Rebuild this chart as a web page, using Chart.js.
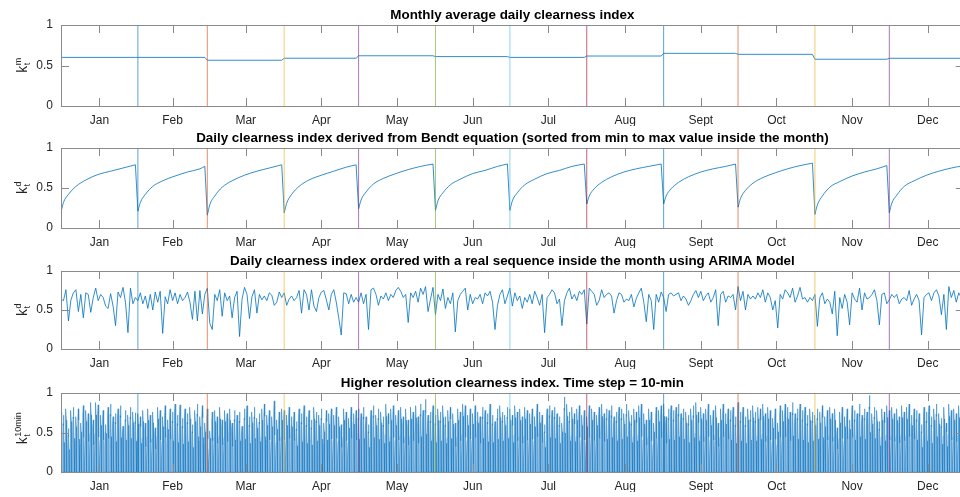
<!DOCTYPE html>
<html><head><meta charset="utf-8">
<script src="https://cdn.jsdelivr.net/npm/chart.js@4/dist/chart.umd.min.js"></script>
<style>
html,body{margin:0;padding:0;background:#fff;overflow:hidden;width:960px;height:497px;position:relative;}
canvas{position:absolute;left:0;}
</style></head><body>
<canvas id="p1"></canvas>
<canvas id="p2"></canvas>
<canvas id="p3"></canvas>
<canvas id="p4"></canvas>
<script>
// ---------------- DATA ----------------
const monthLabels = ['Jan','Feb','Mar','Apr','May','Jun','Jul','Aug','Sept','Oct','Nov','Dec'];
const monthDays = [31,28,31,30,31,30,31,31,30,31,30,31];
const yTicks = [0, 0.5, 1];
const yTickLabels = ['0','0.5','1'];
const boundaryColors = ['#0072BD','#D95319','#EDB120','#7E2F8E','#77AC30','#4DBEEE','#A2142F','#0072BD','#D95319','#EDB120','#7E2F8E'];

// Panel 1: monthly average daily clearness index
const monthlyAvg = [0.600,0.600,0.565,0.590,0.620,0.610,0.600,0.617,0.650,0.638,0.577,0.589];

// Panel 2: sorted Bendt daily values, sampled at these day offsets inside each month (last = last day)
const bendtOffsets = [0,1,3,6,10,15,20,25];
const bendtJan = [0.20,0.32,0.42,0.52,0.60,0.67,0.71,0.75,0.79];
const bendtFeb = [0.21,0.32,0.42,0.52,0.59,0.65,0.70,0.74,0.77];
const bendtMar = [0.16,0.29,0.40,0.51,0.59,0.66,0.71,0.75,0.79];
const bendtApr = [0.19,0.31,0.42,0.52,0.60,0.66,0.71,0.76,0.79];
const bendtMay = [0.24,0.35,0.45,0.55,0.62,0.68,0.73,0.77,0.80];
const bendtJun = [0.22,0.34,0.44,0.54,0.61,0.68,0.72,0.77,0.80];
const bendtJul = [0.22,0.34,0.44,0.54,0.61,0.68,0.72,0.77,0.80];
const bendtAug = [0.30,0.40,0.49,0.57,0.64,0.70,0.74,0.77,0.80];
const bendtSep = [0.30,0.40,0.49,0.57,0.64,0.70,0.74,0.77,0.80];
const bendtOct = [0.26,0.37,0.47,0.56,0.63,0.69,0.74,0.78,0.81];
const bendtNov = [0.17,0.29,0.40,0.51,0.58,0.65,0.70,0.74,0.78];
const bendtDec = [0.19,0.31,0.41,0.52,0.59,0.66,0.71,0.75,0.78];

// Panel 3: daily clearness index (ARIMA ordered), one value per day
const arimaJan = [0.64,0.62,0.76,0.36,0.63,0.72,0.76,0.48,0.70,0.40,0.72,0.70,0.47,0.66,0.78,0.62,0.70,0.66,0.55,0.52,0.71,0.55,0.30,0.73,0.66,0.79,0.60,0.21,0.78,0.58,0.66];
const arimaFeb = [0.62,0.72,0.58,0.68,0.52,0.70,0.50,0.73,0.60,0.74,0.20,0.67,0.58,0.76,0.62,0.72,0.58,0.70,0.62,0.66,0.73,0.60,0.38,0.74,0.36,0.75,0.45,0.70];
const arimaMar = [0.78,0.33,0.25,0.70,0.62,0.76,0.42,0.72,0.62,0.68,0.40,0.66,0.74,0.16,0.64,0.79,0.70,0.39,0.67,0.76,0.46,0.70,0.63,0.68,0.62,0.72,0.69,0.56,0.60,0.73,0.66];
const arimaApr = [0.72,0.56,0.64,0.68,0.62,0.66,0.75,0.46,0.76,0.70,0.50,0.76,0.55,0.48,0.66,0.73,0.75,0.63,0.50,0.70,0.76,0.60,0.40,0.18,0.72,0.71,0.58,0.70,0.60,0.66];
const arimaMay = [0.60,0.72,0.58,0.70,0.25,0.76,0.78,0.70,0.56,0.68,0.64,0.72,0.62,0.70,0.66,0.75,0.79,0.74,0.66,0.70,0.34,0.72,0.66,0.74,0.60,0.78,0.70,0.80,0.48,0.64,0.79];
const arimaJun = [0.44,0.70,0.62,0.77,0.52,0.66,0.58,0.72,0.22,0.62,0.70,0.74,0.78,0.50,0.70,0.58,0.66,0.64,0.70,0.58,0.72,0.68,0.74,0.60,0.25,0.56,0.70,0.76,0.58,0.68];
const arimaJul = [0.78,0.55,0.72,0.62,0.68,0.52,0.66,0.60,0.70,0.58,0.74,0.66,0.56,0.70,0.21,0.66,0.70,0.76,0.72,0.58,0.64,0.30,0.62,0.72,0.78,0.64,0.70,0.62,0.74,0.70,0.76];
const arimaAug = [0.32,0.78,0.74,0.70,0.56,0.62,0.76,0.66,0.70,0.72,0.68,0.46,0.62,0.72,0.70,0.60,0.64,0.62,0.70,0.54,0.65,0.72,0.78,0.60,0.35,0.70,0.62,0.25,0.70,0.60,0.73];
const arimaSep = [0.66,0.48,0.70,0.72,0.68,0.70,0.72,0.62,0.68,0.64,0.56,0.62,0.70,0.75,0.66,0.74,0.62,0.68,0.72,0.60,0.66,0.76,0.30,0.70,0.74,0.60,0.68,0.66,0.70,0.50];
const arimaOct = [0.80,0.62,0.74,0.50,0.70,0.64,0.68,0.64,0.72,0.66,0.76,0.60,0.72,0.66,0.50,0.62,0.27,0.70,0.64,0.76,0.72,0.66,0.78,0.60,0.68,0.79,0.64,0.66,0.60,0.66,0.62];
const arimaNov = [0.70,0.29,0.66,0.72,0.58,0.64,0.60,0.45,0.74,0.17,0.66,0.52,0.70,0.60,0.31,0.72,0.64,0.60,0.78,0.50,0.72,0.64,0.66,0.70,0.76,0.62,0.31,0.70,0.72,0.58];
const arimaDec = [0.63,0.70,0.66,0.70,0.58,0.64,0.66,0.62,0.75,0.56,0.64,0.70,0.62,0.18,0.66,0.70,0.72,0.62,0.72,0.76,0.68,0.44,0.70,0.25,0.80,0.66,0.75,0.60,0.72,0.66,0.70];

// Panel 4: 10-min clearness index, daily peak values and the relative daytime profile of one day
const peakJan = [0.76,0.72,0.80,0.55,0.78,0.82,0.70,0.80,0.62,0.84,0.78,0.74,0.88,0.66,0.88,0.85,0.72,0.78,0.60,0.82,0.86,0.70,0.74,0.80,0.84,0.58,0.78,0.72,0.82,0.76,0.75];
const peakFeb = [0.74,0.70,0.78,0.62,0.80,0.72,0.76,0.56,0.82,0.78,0.70,0.84,0.66,0.80,0.76,0.86,0.72,0.85,0.68,0.80,0.74,0.82,0.60,0.78,0.86,0.70,0.84,0.62];
const peakMar = [0.80,0.52,0.76,0.78,0.70,0.82,0.66,0.78,0.74,0.80,0.62,0.78,0.72,0.76,0.58,0.80,0.84,0.70,0.76,0.82,0.68,0.74,0.80,0.86,0.72,0.78,0.70,0.90,0.66,0.76,0.80];
const peakApr = [0.78,0.72,0.82,0.70,0.76,0.64,0.80,0.74,0.84,0.70,0.78,0.66,0.82,0.76,0.72,0.80,0.62,0.78,0.74,0.80,0.72,0.82,0.70,0.60,0.80,0.76,0.68,0.82,0.74,0.78];
const peakMay = [0.80,0.74,0.82,0.70,0.60,0.78,0.84,0.72,0.80,0.76,0.70,0.86,0.74,0.80,0.84,0.72,0.78,0.82,0.70,0.80,0.66,0.82,0.76,0.84,0.70,0.86,0.78,0.92,0.72,0.76,0.84];
const peakJun = [0.72,0.80,0.76,0.84,0.70,0.78,0.82,0.74,0.62,0.80,0.76,0.86,0.84,0.72,0.80,0.74,0.84,0.76,0.70,0.82,0.78,0.74,0.86,0.72,0.64,0.80,0.84,0.76,0.72,0.82];
const peakJul = [0.80,0.72,0.84,0.76,0.80,0.70,0.82,0.78,0.74,0.80,0.70,0.86,0.76,0.72,0.60,0.80,0.84,0.78,0.82,0.74,0.70,0.62,0.95,0.86,0.76,0.82,0.74,0.80,0.84,0.72,0.78];
const peakAug = [0.70,0.84,0.80,0.76,0.72,0.82,0.86,0.74,0.80,0.78,0.84,0.70,0.76,0.82,0.80,0.74,0.86,0.78,0.72,0.80,0.76,0.84,0.86,0.74,0.66,0.80,0.76,0.62,0.82,0.78,0.84];
const peakSep = [0.86,0.70,0.80,0.84,0.78,0.82,0.86,0.74,0.80,0.76,0.72,0.80,0.84,0.88,0.76,0.82,0.74,0.80,0.86,0.72,0.78,0.84,0.62,0.80,0.86,0.74,0.80,0.78,0.82,0.70];
const peakOct = [0.88,0.76,0.82,0.70,0.80,0.78,0.84,0.76,0.82,0.80,0.86,0.74,0.82,0.78,0.68,0.80,0.62,0.84,0.78,0.86,0.82,0.76,0.88,0.74,0.80,0.86,0.78,0.82,0.72,0.80,0.76];
const peakNov = [0.72,0.80,0.76,0.84,0.70,0.78,0.82,0.74,0.80,0.56,0.76,0.82,0.70,0.80,0.66,0.84,0.78,0.74,0.86,0.72,0.80,0.76,0.97,0.74,0.82,0.78,0.64,0.80,0.76,0.84];
const peakDec = [0.78,0.82,0.74,0.80,0.70,0.84,0.76,0.82,0.86,0.72,0.80,0.78,0.74,0.60,0.82,0.76,0.84,0.70,0.80,0.86,0.74,0.68,0.82,0.62,0.86,0.78,0.80,0.74,0.84,0.76,0.80];
const dayProfileOffsets = [0.14,0.24,0.35,0.50,0.65,0.76,0.86];
const dayProfileShape   = [0,   0.55,0.85,1.00,0.82,0.52,0];

// ---------------- BUILD ----------------
const monthStarts = [];
{ let s = 1; for (const d of monthDays) { monthStarts.push(s); s += d; } }
const monthMids = monthStarts.map((s,i)=> s + monthDays[i]/2);

const bendtMonths = [bendtJan,bendtFeb,bendtMar,bendtApr,bendtMay,bendtJun,bendtJul,bendtAug,bendtSep,bendtOct,bendtNov,bendtDec];
const arimaMonths = [arimaJan,arimaFeb,arimaMar,arimaApr,arimaMay,arimaJun,arimaJul,arimaAug,arimaSep,arimaOct,arimaNov,arimaDec];
const peakMonths = [peakJan,peakFeb,peakMar,peakApr,peakMay,peakJun,peakJul,peakAug,peakSep,peakOct,peakNov,peakDec];

const p1Data = [];
monthlyAvg.forEach((v,i)=>{ p1Data.push({x:monthStarts[i],y:v}); p1Data.push({x:monthStarts[i]+monthDays[i]-1,y:v}); });

const p2MonthData = bendtMonths.map((arr,i)=>{
  const offs = bendtOffsets.concat([monthDays[i]-1]);
  return arr.map((v,k)=> ({x:monthStarts[i]+offs[k], y:v}));
});
const p2Drops = [];
for (let i=0;i<11;i++){
  const a = bendtMonths[i], b = bendtMonths[i+1];
  p2Drops.push({x:monthStarts[i]+monthDays[i]-1, y:a[a.length-1]});
  p2Drops.push({x:monthStarts[i+1], y:b[0]});
  p2Drops.push({x:monthStarts[i+1], y:null});
}

const p3Data = [];
arimaMonths.forEach((arr,i)=> arr.forEach((v,k)=> p3Data.push({x:monthStarts[i]+k, y:v})));

const p4Data = [];
peakMonths.forEach((arr,i)=> arr.forEach((pk,k)=>{
  const day = monthStarts[i]+k;
  dayProfileOffsets.forEach((o,j)=> p4Data.push({x: day - 0.5 + o, y: pk*dayProfileShape[j]}));
}));

// ---------------- CHARTS ----------------
const PLOT_LEFT = 61, PX_PER_DAY = 2.48, CANVAS_W = 1000;
const plotRight = PLOT_LEFT + 364*PX_PER_DAY;
const AXIS_GRAY = '#8a8a8a';
const LINE_BLUE = 'rgba(0,114,189,0.8)';
const FONT = '"Liberation Sans", Arial, sans-serif';

function hexA(h,a){const r=parseInt(h.slice(1,3),16),g=parseInt(h.slice(3,5),16),b=parseInt(h.slice(5,7),16);return `rgba(${r},${g},${b},${a})`;}

function boundaryDatasets(){
  return monthStarts.slice(1).map((s,i)=>({
    type:'line', data:[{x:s,y:0},{x:s,y:1}], borderColor:hexA(boundaryColors[i],0.65),
    borderWidth:1, pointRadius:0, order:0, fill:false, tension:0
  }));
}

const axesPlugin = {
  id:'matlabAxes',
  afterDraw(chart, args, opts){
    const {ctx, chartArea:a, scales:{x,y}} = chart;
    ctx.save();
    ctx.strokeStyle = AXIS_GRAY; ctx.lineWidth = 1;
    ctx.beginPath();
    ctx.rect(Math.round(a.left)+0.5, Math.round(a.top)+0.5, Math.round(a.right-a.left), Math.round(a.bottom-a.top));
    ctx.stroke();
    const TL = 8;
    ctx.beginPath();
    x.ticks.forEach(t=>{
      const px = Math.round(x.getPixelForValue(t.value))+0.5;
      ctx.moveTo(px, a.bottom); ctx.lineTo(px, a.bottom-TL);
      ctx.moveTo(px, a.top); ctx.lineTo(px, a.top+TL);
    });
    y.ticks.forEach(t=>{
      const py = Math.round(y.getPixelForValue(t.value))+0.5;
      ctx.moveTo(a.left, py); ctx.lineTo(a.left+TL, py);
      ctx.moveTo(a.right, py); ctx.lineTo(a.right-TL, py);
    });
    ctx.stroke();
    const lab = opts.label;
    if (lab) {
      const cy = (a.top+a.bottom)/2 + (lab.shift||0);
      ctx.translate(27, cy);
      ctx.rotate(-Math.PI/2);
      ctx.fillStyle = '#262626';
      ctx.textBaseline = 'alphabetic';
      ctx.font = '14px '+FONT;
      const kW = ctx.measureText('k').width;
      ctx.font = '9px '+FONT;
      const supW = ctx.measureText(lab.sup).width, subW = ctx.measureText(lab.sub).width;
      const total = kW + Math.max(supW, subW);
      const sx = -total/2;
      ctx.font = '14px '+FONT;
      ctx.fillText('k', sx, 0);
      ctx.font = '9px '+FONT;
      ctx.fillText(lab.sup, sx+kW+0.5, -6);
      ctx.fillText(lab.sub, sx+kW+0.5, 3);
    }
    ctx.restore();
  }
};

function makeChart(id, plotTop, plotBottom, title, datasets, label){
  const cv = document.getElementById(id);
  const h = 25 + (plotBottom-plotTop) + 20;
  cv.width = CANVAS_W; cv.height = h;
  cv.style.width = CANVAS_W+'px'; cv.style.height = h+'px';
  cv.style.top = (plotTop-25)+'px';
  return new Chart(cv, {
    type:'line',
    data:{datasets: datasets.concat(boundaryDatasets())},
    options:{
      responsive:false, animation:false, devicePixelRatio:1,
      layout:{padding:{left:0, right:CANVAS_W-plotRight, top:0, bottom:0}},
      plugins:{
        legend:{display:false}, tooltip:{enabled:false},
        title:{display:true, text:title, fullSize:false, color:'#000',
          font:{family:FONT, size:13.4, weight:'bold', lineHeight:1},
          padding:{top:9.1, bottom:2.5}},
        matlabAxes:{label}
      },
      scales:{
        x:{type:'linear', min:1, max:365,
          grid:{display:false, drawTicks:false}, border:{display:false},
          afterBuildTicks:(s)=>{ s.ticks = monthMids.map(v=>({value:v})); },
          afterFit:(s)=>{ s.height = 20; },
          ticks:{autoSkip:false, maxRotation:0, padding:7, color:'#262626',
            font:{family:FONT, size:12},
            callback:(v,i)=> monthLabels[i]}
        },
        y:{type:'linear', min:0, max:1,
          grid:{display:false, drawTicks:false}, border:{display:false},
          afterBuildTicks:(s)=>{ s.ticks = yTicks.map(v=>({value:v})); },
          afterFit:(s)=>{ s.width = PLOT_LEFT; },
          ticks:{padding:8, color:'#262626',
            font:{family:FONT, size:12},
            callback:(v,i)=> yTickLabels[i]}
        }
      }
    },
    plugins:[axesPlugin]
  });
}

const baseLine = {type:'line', borderColor:LINE_BLUE, borderWidth:1, pointRadius:0, order:1, fill:false};

makeChart('p1', 25, 106, 'Monthly average daily clearness index',
  [Object.assign({}, baseLine, {data:p1Data, tension:0})], {sup:'m', sub:'t'});
makeChart('p2', 148, 228, 'Daily clearness index derived from Bendt equation (sorted from min to max value inside the month)',
  p2MonthData.map(d=> Object.assign({}, baseLine, {data:d, cubicInterpolationMode:'monotone'}))
    .concat([Object.assign({}, baseLine, {data:p2Drops, tension:0, spanGaps:false})]), {sup:'d', sub:'t'});
makeChart('p3', 271, 349, 'Daily clearness index ordered with a real sequence inside the month using ARIMA Model',
  [Object.assign({}, baseLine, {data:p3Data, tension:0})], {sup:'d', sub:'t'});
makeChart('p4', 393, 472, 'Higher resolution clearness index. Time step = 10-min',
  [Object.assign({}, baseLine, {data:p4Data, tension:0, borderColor:'rgba(20,118,192,0.85)', borderWidth:0.6,
    fill:'origin', backgroundColor:'rgba(125,182,226,0.85)'})], {sup:'10min', sub:'t', shift:-4});
</script>
</body></html>
